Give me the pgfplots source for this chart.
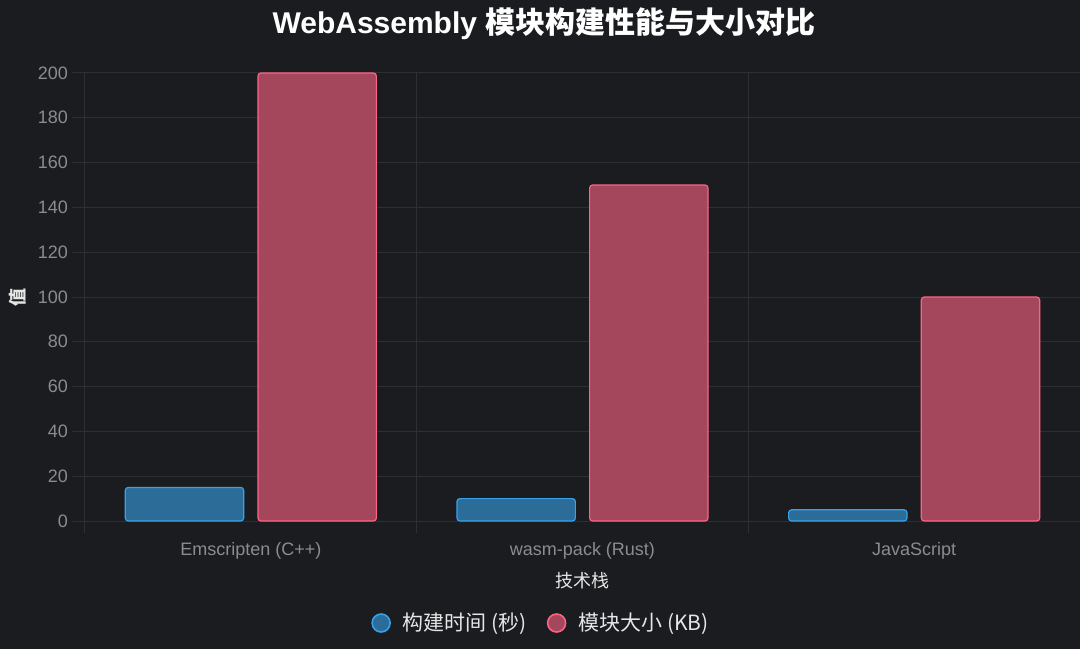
\documentclass[border=0pt]{standalone}
\usepackage{fontspec}
\setmainfont{Liberation Sans}
\newfontfamily\cjk{Noto Sans CJK SC}
\usepackage{pgfplots}
\pgfplotsset{compat=1.18}
\definecolor{bg}{HTML}{1B1C1F}
\definecolor{gridc}{HTML}{2E2F33}
\definecolor{tickc}{HTML}{8C8C8C}
\definecolor{labc}{HTML}{E6E6E6}
\definecolor{bluefill}{HTML}{2B6C99}
\definecolor{blueedge}{HTML}{36A2EB}
\definecolor{redfill}{HTML}{A4475C}
\definecolor{rededge}{HTML}{FF6384}

\begin{document}
\begin{tikzpicture}
% 1 px = 0.5pt, page 1080 x 649 px
\useasboundingbox (0,0) rectangle (540pt,324.5pt);
\fill[bg] (0,0) rectangle (540pt,324.5pt);
\node[text=white, font=\fontsize{15pt}{18pt}\selectfont\bfseries] at (272pt,312.5pt)
  {WebAssembly {\cjk 模块构建性能与大小对比}};
\begin{axis}[
    at={(42.5pt,64pt)}, anchor=south west,
    scale only axis,
    width=497.5pt, height=224pt,
    xmin=-0.5, xmax=2.5,
    ymin=0, ymax=200,
    xtick={0,1,2},
    xticklabels={Emscripten (C++), wasm-pack (Rust), JavaScript},
    minor xtick={-0.5,0.5,1.5,2.5},
    ytick={0,20,...,200},
    tick pos=left,
    tick align=outside,
    major x tick style={draw=none},
    major tick length=6.5pt,
    minor tick length=6pt,
    tick style={draw=gridc, line width=0.5pt},
    ymajorgrids, xminorgrids,
    grid style={draw=gridc, line width=0.5pt},
    minor grid style={draw=gridc, line width=0.5pt},
    axis line style={draw=gridc, line width=0.5pt},
    axis x line*=bottom, axis y line*=left,
    /pgf/number format/assume math mode=true,
    ticklabel style={text=tickc, font=\fontsize{9pt}{11pt}\selectfont},
    yticklabel style={xshift=1.5pt},
    xticklabel style={yshift=-0.5pt},
    xlabel={\cjk 技术栈},
    ylabel={\cjk\bfseries 值},
    label style={text=labc, font=\fontsize{9pt}{11pt}\selectfont},
    xlabel style={yshift=0pt},
    ylabel style={yshift=-1pt},
    legend style={at={(0.4593,-0.2277)}, anchor=center, legend columns=2,
      draw=none, fill=none, text=labc,
      font=\fontsize{10.5pt}{12pt}\selectfont\cjk,
      /tikz/every odd column/.append style={column sep=4pt},
      /tikz/every even column/.append style={column sep=8pt}},
    legend cell align=left,
]
\addplot[ybar, bar width=0.357, bar shift=-0.2, fill=bluefill, draw=blueedge,
  line width=0.6pt, rounded corners=1.5pt,
  legend image code/.code={\draw[fill=bluefill, draw=blueedge, line width=0.8pt] (0.25em,0pt) circle (4.5pt);}]
  coordinates {(0,15) (1,10) (2,5)};
\addlegendentry{构建时间 (秒)}
\addplot[ybar, bar width=0.357, bar shift=0.2, fill=redfill, draw=rededge,
  line width=0.6pt, rounded corners=1.5pt,
  legend image code/.code={\draw[fill=redfill, draw=rededge, line width=0.8pt] (0.25em,0pt) circle (4.5pt);}]
  coordinates {(0,200) (1,150) (2,100)};
\addlegendentry{模块大小 (KB)}
\end{axis}
\end{tikzpicture}
\end{document}
